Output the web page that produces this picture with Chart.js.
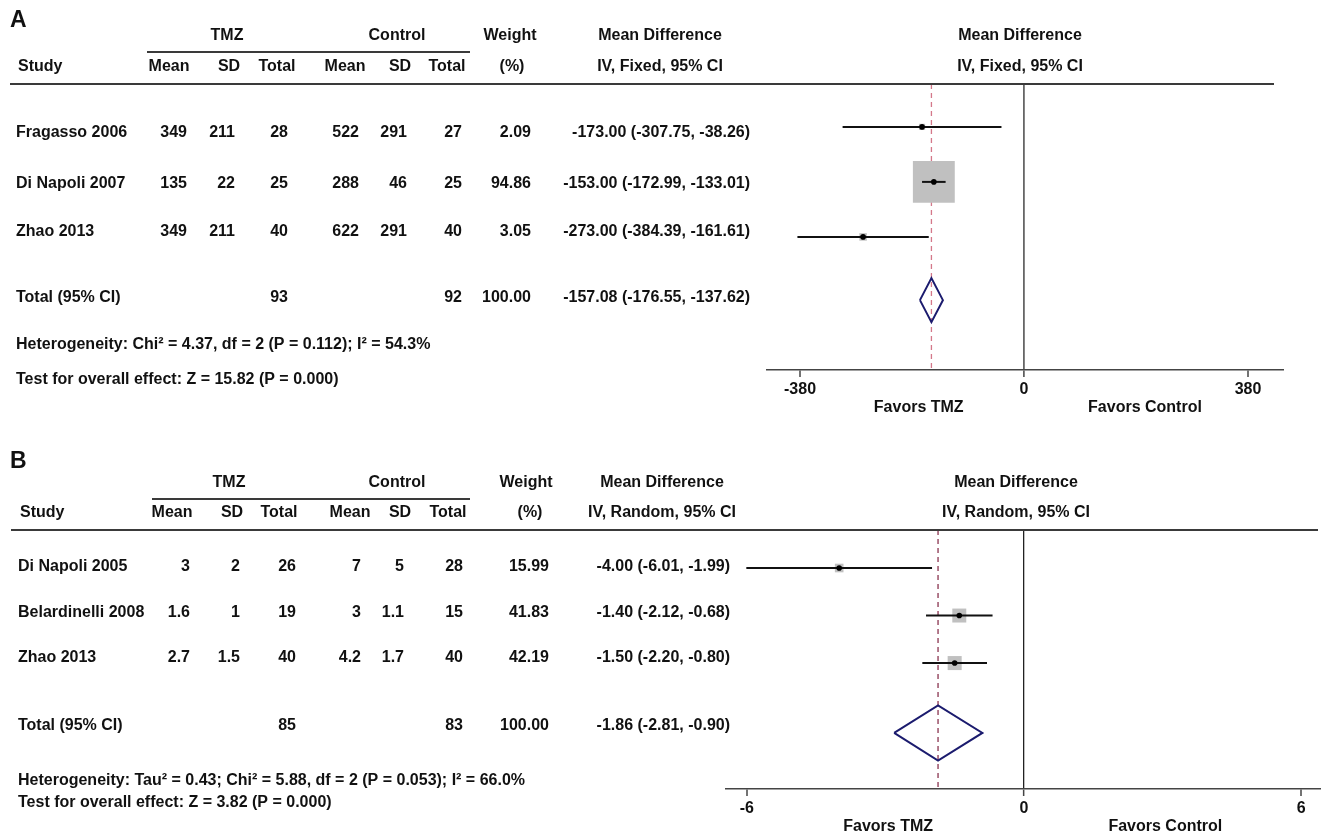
<!DOCTYPE html>
<html>
<head>
<meta charset="utf-8">
<script src="https://cdn.jsdelivr.net/npm/chart.js@4/dist/chart.umd.min.js"></script>
<style>
  html, body { margin: 0; padding: 0; background: #fff; }
  #wrap { position: relative; width: 1321px; height: 837px; }
  canvas { position: absolute; left: 0; }
  #cA { top: 0; }
  #cB { top: 430px; }
</style>
</head>
<body>
<div id="wrap">
  <canvas id="cA" width="1321" height="430"></canvas>
  <canvas id="cB" width="1321" height="407"></canvas>
</div>
<script>
// ---- Panel A: fixed-effect meta-analysis ----
const studiesA   = ['Fragasso 2006', 'Di Napoli 2007', 'Zhao 2013'];
const tmzMeanA   = [349, 135, 349];
const tmzSdA     = [211, 22, 211];
const tmzTotalA  = [28, 25, 40];
const ctlMeanA   = [522, 288, 622];
const ctlSdA     = [291, 46, 291];
const ctlTotalA  = [27, 25, 40];
const weightA    = [2.09, 94.86, 3.05];
const mdA        = [-173.00, -153.00, -273.00];
const lowerA     = [-307.75, -172.99, -384.39];
const upperA     = [-38.26, -133.01, -161.61];
const pooledA    = [-157.08, -176.55, -137.62];   // estimate, lower, upper
const totalsA    = [93, 92];                      // TMZ total, control total
const ticksA     = [-380, 0, 380];
const hetA       = 'Heterogeneity: Chi\u00B2 = 4.37, df = 2 (P = 0.112); I\u00B2 = 54.3%';
const effectA    = 'Test for overall effect: Z = 15.82 (P = 0.000)';

// ---- Panel B: random-effects meta-analysis ----
const studiesB   = ['Di Napoli 2005', 'Belardinelli 2008', 'Zhao 2013'];
const tmzMeanB   = [3, 1.6, 2.7];
const tmzSdB     = [2, 1, 1.5];
const tmzTotalB  = [26, 19, 40];
const ctlMeanB   = [7, 3, 4.2];
const ctlSdB     = [5, 1.1, 1.7];
const ctlTotalB  = [28, 15, 40];
const weightB    = [15.99, 41.83, 42.19];
const mdB        = [-4.00, -1.40, -1.50];
const lowerB     = [-6.01, -2.12, -2.20];
const upperB     = [-1.99, -0.68, -0.80];
const pooledB    = [-1.86, -2.81, -0.90];
const totalsB    = [85, 83];
const ticksB     = [-6, 0, 6];
const hetB       = 'Heterogeneity: Tau\u00B2 = 0.43; Chi\u00B2 = 5.88, df = 2 (P = 0.053); I\u00B2 = 66.0%';
const effectB    = 'Test for overall effect: Z = 3.82 (P = 0.000)';

const FONT = '"Liberation Sans", Arial, Helvetica, sans-serif';
Chart.defaults.font.family = FONT;

function ciText(m, lo, hi) {
  return m.toFixed(2) + ' (' + lo.toFixed(2) + ', ' + hi.toFixed(2) + ')';
}

// Builds a forest-plot chart for one panel.
function forest(canvasId, d, lay) {
  const n = d.studies.length;
  const datasets = [];

  // centre dots of the study estimates (drawn on top)
  datasets.push({
    data: d.md.map((m, i) => ({ x: m, y: lay.rowY[i] })),
    pointStyle: 'circle', pointRadius: 2.8, backgroundColor: '#000', borderWidth: 0,
    showLine: false, order: 0
  });
  // confidence-interval whiskers
  for (let i = 0; i < n; i++) {
    datasets.push({
      data: [{ x: d.lower[i], y: lay.rowY[i] }, { x: d.upper[i], y: lay.rowY[i] }],
      showLine: true, borderColor: '#111', borderWidth: 2, pointRadius: 0, order: 1
    });
  }
  // pooled diamond
  const [pm, plo, phi] = d.pooled;
  const ry = lay.rowY[n], h = lay.diamondHalf;
  datasets.push({
    data: [{ x: plo, y: ry }, { x: pm, y: ry - h }, { x: phi, y: ry }, { x: pm, y: ry + h }, { x: plo, y: ry }],
    showLine: true, borderColor: '#1b1b6e', borderWidth: 2, pointRadius: 0, fill: false, order: 1
  });
  // weight squares (area proportional to weight)
  datasets.push({
    data: d.md.map((m, i) => ({ x: m, y: lay.rowY[i] })),
    pointStyle: 'rect',
    pointRadius: d.weight.map(w => lay.boxK * Math.sqrt(w) / Math.SQRT2),
    backgroundColor: '#c0c0c0', borderWidth: 0, showLine: false, order: 2
  });
  // pooled-estimate reference line
  datasets.push({
    data: [{ x: pm, y: lay.yMin }, { x: pm, y: lay.yMax }],
    showLine: true, borderColor: lay.dashColor, borderWidth: 1.3, borderDash: [5, 4],
    pointRadius: 0, order: 3
  });

  const tablePlugin = {
    id: 'table' + canvasId,
    afterDraw(chart) {
      const ctx = chart.ctx;
      const xs = chart.scales.x;
      ctx.save();
      ctx.fillStyle = '#111';
      ctx.textBaseline = 'middle';

      // panel letter
      ctx.font = 'bold 23px ' + FONT;
      ctx.textAlign = 'left';
      ctx.fillText(d.letter, 10, lay.letterY);

      ctx.font = 'bold 16px ' + FONT;
      const H = lay.head;
      ctx.textAlign = 'center';
      ctx.fillText('TMZ', H.tmz, lay.h1);
      ctx.fillText('Control', H.ctl, lay.h1);
      ctx.fillText('Weight', H.weight, lay.h1);
      ctx.fillText('Mean Difference', H.md, lay.h1);
      ctx.fillText('Mean Difference', H.plot, lay.h1);
      ['Mean', 'SD', 'Total', 'Mean', 'SD', 'Total'].forEach((t, i) => ctx.fillText(t, H.cols[i], lay.h2));
      ctx.fillText('(%)', H.pct, lay.h2);
      ctx.fillText(d.method, H.md, lay.h2);
      ctx.fillText(d.method, H.plot, lay.h2);
      ctx.textAlign = 'left';
      ctx.fillText('Study', H.study, lay.h2);

      // header rules
      ctx.strokeStyle = '#3a3a3a';
      ctx.lineWidth = 2;
      ctx.beginPath();
      ctx.moveTo(lay.under[0], lay.underY); ctx.lineTo(lay.under[1], lay.underY);
      ctx.moveTo(lay.rule[0], lay.ruleY); ctx.lineTo(lay.rule[1], lay.ruleY);
      ctx.stroke();

      // study rows
      const C = lay.cols;
      for (let i = 0; i < n; i++) {
        const y = lay.textY[i];
        ctx.textAlign = 'left';
        ctx.fillText(d.studies[i], H.study - 2, y);
        ctx.textAlign = 'right';
        const vals = [d.tmzMean[i], d.tmzSd[i], d.tmzTotal[i], d.ctlMean[i], d.ctlSd[i], d.ctlTotal[i]];
        vals.forEach((v, k) => ctx.fillText(String(v), C[k], y));
        ctx.fillText(d.weight[i].toFixed(2), lay.wRight, y);
        ctx.fillText(ciText(d.md[i], d.lower[i], d.upper[i]), lay.ciRight, y);
      }
      // total row
      const ty = lay.textY[n];
      ctx.textAlign = 'left';
      ctx.fillText('Total (95% CI)', H.study - 2, ty);
      ctx.textAlign = 'right';
      ctx.fillText(String(d.totals[0]), C[2], ty);
      ctx.fillText(String(d.totals[1]), C[5], ty);
      ctx.fillText((100).toFixed(2), lay.wRight, ty);
      ctx.fillText(ciText(pm, plo, phi), lay.ciRight, ty);

      // heterogeneity and overall effect
      ctx.textAlign = 'left';
      ctx.fillText(d.het, H.study - 2, lay.hetY);
      ctx.fillText(d.effect, H.study - 2, lay.effY);

      // favour labels under the axis
      ctx.textAlign = 'center';
      const tmax = d.ticks[d.ticks.length - 1];
      ctx.fillText('Favors TMZ', xs.getPixelForValue(lay.favor[0] * tmax), lay.favY);
      ctx.fillText('Favors Control', xs.getPixelForValue(lay.favor[1] * tmax), lay.favY);
      ctx.restore();
    }
  };

  return new Chart(document.getElementById(canvasId), {
    type: 'scatter',
    data: { datasets },
    options: {
      responsive: false,
      animation: false,
      devicePixelRatio: 1,
      events: [],
      layout: { padding: lay.padding, autoPadding: false },
      plugins: { legend: { display: false }, tooltip: { enabled: false } },
      elements: { line: { tension: 0 } },
      scales: {
        x: {
          type: 'linear', min: lay.xMin, max: lay.xMax,
          afterBuildTicks: s => { s.ticks = d.ticks.map(v => ({ value: v })); },
          afterFit: s => { s.height = 40; },
          ticks: {
            autoSkip: false, maxRotation: 0, padding: 3,
            color: '#111', font: { size: 16, weight: 'bold' },
            callback: v => String(v)
          },
          grid: {
            drawOnChartArea: true, drawTicks: true, tickLength: 7,
            tickColor: '#444', tickWidth: 1.5,
            color: c => (c.tick && c.tick.value === 0) ? lay.zeroColor : 'rgba(0,0,0,0)',
            lineWidth: c => (c.tick && c.tick.value === 0) ? lay.zeroWidth : 0
          },
          border: { display: true, color: '#444', width: 1.6 }
        },
        y: { type: 'linear', reverse: true, min: lay.yMin, max: lay.yMax, display: false }
      }
    },
    plugins: [tablePlugin]
  });
}

forest('cA', {
  letter: 'A', method: 'IV, Fixed, 95% CI',
  studies: studiesA, tmzMean: tmzMeanA, tmzSd: tmzSdA, tmzTotal: tmzTotalA,
  ctlMean: ctlMeanA, ctlSd: ctlSdA, ctlTotal: ctlTotalA, weight: weightA,
  md: mdA, lower: lowerA, upper: upperA, pooled: pooledA, totals: totalsA,
  ticks: ticksA, het: hetA, effect: effectA
}, {
  padding: { left: 767, right: 37, top: 84, bottom: 20 },
  xMin: -436, xMax: 441,
  rowY: [1, 2, 3, 4.15], yMin: 0.22, yMax: 5.42, diamondHalf: 0.4, boxK: 4.3,
  dashColor: '#d4788a', zeroColor: '#666', zeroWidth: 1.8,
  letterY: 21, h1: 36, h2: 67, underY: 52, under: [147, 470], ruleY: 84, rule: [10, 1274],
  head: { study: 18, tmz: 227, ctl: 397, weight: 510, pct: 512, md: 660, plot: 1020,
          cols: [169, 229, 277, 345, 400, 447] },
  cols: [187, 235, 288, 359, 407, 462], wRight: 531, ciRight: 750,
  textY: [133, 184, 232, 298], hetY: 345, effY: 380,
  favor: [-0.47, 0.54], favY: 408
});

forest('cB', {
  letter: 'B', method: 'IV, Random, 95% CI',
  studies: studiesB, tmzMean: tmzMeanB, tmzSd: tmzSdB, tmzTotal: tmzTotalB,
  ctlMean: ctlMeanB, ctlSd: ctlSdB, ctlTotal: ctlTotalB, weight: weightB,
  md: mdB, lower: lowerB, upper: upperB, pooled: pooledB, totals: totalsB,
  ticks: ticksB, het: hetB, effect: effectB
}, {
  padding: { left: 726, right: 0, top: 100, bottom: 8 },
  xMin: -6.45, xMax: 6.43,
  rowY: [1, 2, 3, 4.47], yMin: 0.2, yMax: 5.65, diamondHalf: 0.58, boxK: 2.16,
  dashColor: '#8a3550', zeroColor: '#222', zeroWidth: 1.3,
  letterY: 32, h1: 53, h2: 83, underY: 69, under: [152, 470], ruleY: 100, rule: [11, 1318],
  head: { study: 20, tmz: 229, ctl: 397, weight: 526, pct: 530, md: 662, plot: 1016,
          cols: [172, 232, 279, 350, 400, 448] },
  cols: [190, 240, 296, 361, 404, 463], wRight: 549, ciRight: 730,
  textY: [137, 183, 228, 296], hetY: 351, effY: 373,
  favor: [-0.49, 0.51], favY: 397
});
</script>
</body>
</html>
